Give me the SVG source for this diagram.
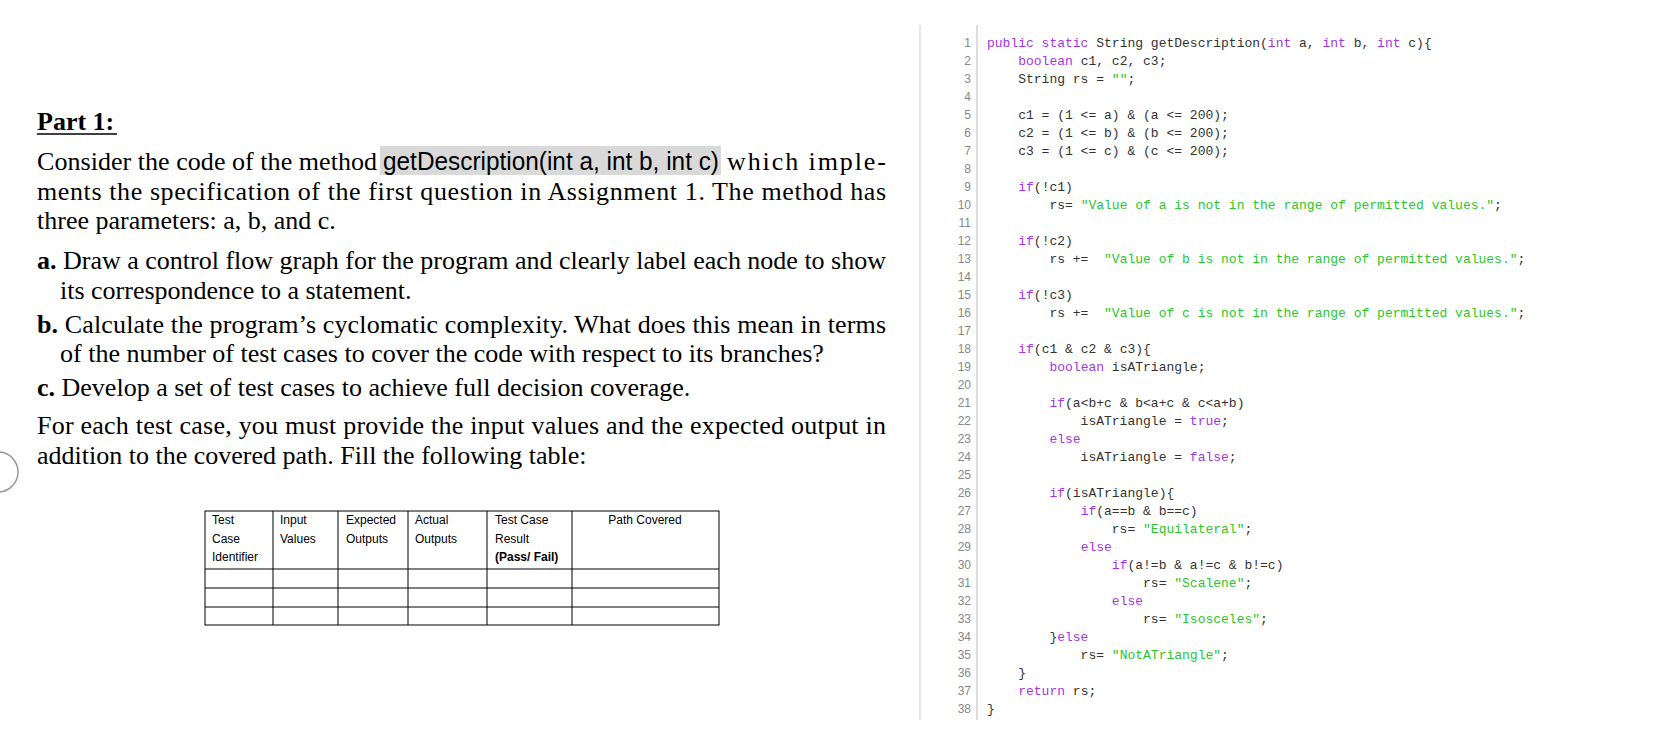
<svg xmlns="http://www.w3.org/2000/svg" width="1658" height="731" viewBox="0 0 1658 731">
<style>
.t{font-family:"Liberation Serif",serif;font-size:26px;fill:#000}
.b{font-weight:bold}
.ar{font-family:"Liberation Sans",Arial,sans-serif}
.c{font-family:"Liberation Mono",monospace;font-size:13px;fill:#333;white-space:pre}
.k{fill:#a335e3}
.s{fill:#2ac62a}
.n{font-family:"Liberation Sans",sans-serif;font-size:12px;fill:#888;text-anchor:end}
.h{font-family:"Liberation Sans",sans-serif;font-size:12px;fill:#000}
.g{stroke:#000;stroke-width:1;fill:none}
</style>
<rect width="1658" height="731" fill="#fff"/>
<g id="question">
<text class="t b" x="37" y="130">Part 1:</text>
<line x1="37" y1="134" x2="117" y2="134" stroke="#000" stroke-width="1.5"/>
<rect x="380" y="146" width="341" height="29" fill="#d9d9d9"/>
<text class="t" x="37" y="170" textLength="340">Consider the code of the method</text>
<text class="t ar" x="383" y="170" textLength="336" lengthAdjust="spacingAndGlyphs">getDescription(int a, int b, int c)</text>
<text class="t" x="727" y="170" textLength="159">which imple-</text>
<text class="t" x="37" y="200" textLength="849">ments the specification of the first question in Assignment 1. The method has</text>
<text class="t" x="37" y="229">three parameters: a, b, and c.</text>
<text class="t" x="37" y="269" textLength="849"><tspan class="b">a.</tspan> Draw a control flow graph for the program and clearly label each node to show</text>
<text class="t" x="60" y="299">its correspondence to a statement.</text>
<text class="t" x="37" y="333" textLength="849"><tspan class="b">b.</tspan> Calculate the program’s cyclomatic complexity. What does this mean in terms</text>
<text class="t" x="60" y="362">of the number of test cases to cover the code with respect to its branches?</text>
<text class="t" x="37" y="396"><tspan class="b">c.</tspan> Develop a set of test cases to achieve full decision coverage.</text>
<text class="t" x="37" y="434" textLength="849">For each test case, you must provide the input values and the expected output in</text>
<text class="t" x="37" y="464">addition to the covered path. Fill the following table:</text>
<circle cx="-2" cy="472" r="20" fill="none" stroke="#999" stroke-width="1.5"/>
</g>
<g id="table">
<rect class="g" x="205" y="511" width="514" height="114"/>
<line class="g" x1="273" y1="511" x2="273" y2="625"/>
<line class="g" x1="338" y1="511" x2="338" y2="625"/>
<line class="g" x1="408" y1="511" x2="408" y2="625"/>
<line class="g" x1="487" y1="511" x2="487" y2="625"/>
<line class="g" x1="572" y1="511" x2="572" y2="625"/>
<line class="g" x1="205" y1="569" x2="719" y2="569"/>
<line class="g" x1="205" y1="588" x2="719" y2="588"/>
<line class="g" x1="205" y1="607" x2="719" y2="607"/>
<text class="h" x="212" y="524">Test</text><text class="h" x="212" y="543">Case</text><text class="h" x="212" y="561">Identifier</text>
<text class="h" x="280" y="524">Input</text><text class="h" x="280" y="543">Values</text>
<text class="h" x="346" y="524">Expected</text><text class="h" x="346" y="543">Outputs</text>
<text class="h" x="415" y="524">Actual</text><text class="h" x="415" y="543">Outputs</text>
<text class="h" x="495" y="524">Test   Case</text><text class="h" x="495" y="543">Result</text><text class="h b" x="495" y="561">(Pass/ Fail)</text>
<text class="h" x="645" y="524" text-anchor="middle">Path Covered</text>
</g>
<g id="code">
<line x1="920" y1="25" x2="920" y2="720" stroke="#ccc"/>
<line x1="977" y1="25" x2="977" y2="720" stroke="#ddd" stroke-width="2"/>
<g>
<text class="n" x="971" y="47">1</text><text class="n" x="971" y="65">2</text><text class="n" x="971" y="83">3</text><text class="n" x="971" y="101">4</text><text class="n" x="971" y="119">5</text><text class="n" x="971" y="137">6</text><text class="n" x="971" y="155">7</text><text class="n" x="971" y="173">8</text><text class="n" x="971" y="191">9</text><text class="n" x="971" y="209">10</text><text class="n" x="971" y="227">11</text><text class="n" x="971" y="245">12</text><text class="n" x="971" y="263">13</text><text class="n" x="971" y="281">14</text><text class="n" x="971" y="299">15</text><text class="n" x="971" y="317">16</text><text class="n" x="971" y="335">17</text><text class="n" x="971" y="353">18</text><text class="n" x="971" y="371">19</text><text class="n" x="971" y="389">20</text><text class="n" x="971" y="407">21</text><text class="n" x="971" y="425">22</text><text class="n" x="971" y="443">23</text><text class="n" x="971" y="461">24</text><text class="n" x="971" y="479">25</text><text class="n" x="971" y="497">26</text><text class="n" x="971" y="515">27</text><text class="n" x="971" y="533">28</text><text class="n" x="971" y="551">29</text><text class="n" x="971" y="569">30</text><text class="n" x="971" y="587">31</text><text class="n" x="971" y="605">32</text><text class="n" x="971" y="623">33</text><text class="n" x="971" y="641">34</text><text class="n" x="971" y="659">35</text><text class="n" x="971" y="677">36</text><text class="n" x="971" y="695">37</text><text class="n" x="971" y="713">38</text>
</g>
<text class="c" x="987" y="47" xml:space="preserve"><tspan class="k">public static</tspan> String getDescription(<tspan class="k">int</tspan> a, <tspan class="k">int</tspan> b, <tspan class="k">int</tspan> c){</text>
<text class="c" x="987" y="65" xml:space="preserve">    <tspan class="k">boolean</tspan> c1, c2, c3;</text>
<text class="c" x="987" y="83" xml:space="preserve">    String rs = <tspan class="s">""</tspan>;</text>
<text class="c" x="987" y="119" xml:space="preserve">    c1 = (1 &lt;= a) &amp; (a &lt;= 200);</text>
<text class="c" x="987" y="137" xml:space="preserve">    c2 = (1 &lt;= b) &amp; (b &lt;= 200);</text>
<text class="c" x="987" y="155" xml:space="preserve">    c3 = (1 &lt;= c) &amp; (c &lt;= 200);</text>
<text class="c" x="987" y="191" xml:space="preserve">    <tspan class="k">if</tspan>(!c1)</text>
<text class="c" x="987" y="209" xml:space="preserve">        rs= <tspan class="s">"Value of a is not in the range of permitted values."</tspan>;</text>
<text class="c" x="987" y="245" xml:space="preserve">    <tspan class="k">if</tspan>(!c2)</text>
<text class="c" x="987" y="263" xml:space="preserve">        rs +=  <tspan class="s">"Value of b is not in the range of permitted values."</tspan>;</text>
<text class="c" x="987" y="299" xml:space="preserve">    <tspan class="k">if</tspan>(!c3)</text>
<text class="c" x="987" y="317" xml:space="preserve">        rs +=  <tspan class="s">"Value of c is not in the range of permitted values."</tspan>;</text>
<text class="c" x="987" y="353" xml:space="preserve">    <tspan class="k">if</tspan>(c1 &amp; c2 &amp; c3){</text>
<text class="c" x="987" y="371" xml:space="preserve">        <tspan class="k">boolean</tspan> isATriangle;</text>
<text class="c" x="987" y="407" xml:space="preserve">        <tspan class="k">if</tspan>(a&lt;b+c &amp; b&lt;a+c &amp; c&lt;a+b)</text>
<text class="c" x="987" y="425" xml:space="preserve">            isATriangle = <tspan class="k">true</tspan>;</text>
<text class="c" x="987" y="443" xml:space="preserve">        <tspan class="k">else</tspan></text>
<text class="c" x="987" y="461" xml:space="preserve">            isATriangle = <tspan class="k">false</tspan>;</text>
<text class="c" x="987" y="497" xml:space="preserve">        <tspan class="k">if</tspan>(isATriangle){</text>
<text class="c" x="987" y="515" xml:space="preserve">            <tspan class="k">if</tspan>(a==b &amp; b==c)</text>
<text class="c" x="987" y="533" xml:space="preserve">                rs= <tspan class="s">"Equilateral"</tspan>;</text>
<text class="c" x="987" y="551" xml:space="preserve">            <tspan class="k">else</tspan></text>
<text class="c" x="987" y="569" xml:space="preserve">                <tspan class="k">if</tspan>(a!=b &amp; a!=c &amp; b!=c)</text>
<text class="c" x="987" y="587" xml:space="preserve">                    rs= <tspan class="s">"Scalene"</tspan>;</text>
<text class="c" x="987" y="605" xml:space="preserve">                <tspan class="k">else</tspan></text>
<text class="c" x="987" y="623" xml:space="preserve">                    rs= <tspan class="s">"Isosceles"</tspan>;</text>
<text class="c" x="987" y="641" xml:space="preserve">        }<tspan class="k">else</tspan></text>
<text class="c" x="987" y="659" xml:space="preserve">            rs= <tspan class="s">"NotATriangle"</tspan>;</text>
<text class="c" x="987" y="677" xml:space="preserve">    }</text>
<text class="c" x="987" y="695" xml:space="preserve">    <tspan class="k">return</tspan> rs;</text>
<text class="c" x="987" y="713" xml:space="preserve">}</text>
</g>
</svg>
